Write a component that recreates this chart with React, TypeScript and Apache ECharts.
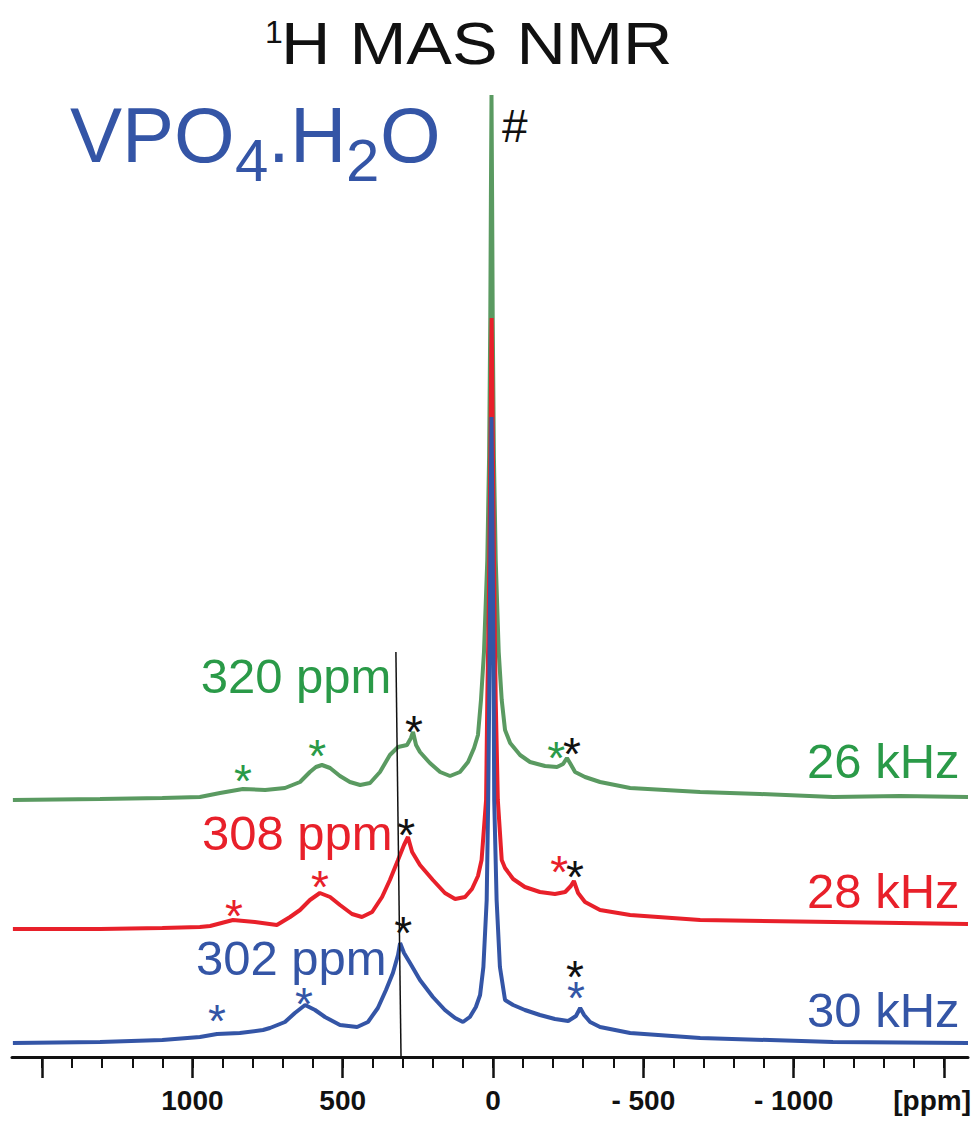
import React, { useEffect, useRef } from 'react';
import * as echarts from 'echarts';

const FONT = '"Liberation Sans", Arial, Helvetica, sans-serif';

// ---- Spectra: chemical shift (ppm) and intensity (arbitrary units, stacking offsets included)
const greenPpm = [1597, 1307, 1100, 975, 908, 832, 758, 692, 642, 609, 589, 569, 542, 509, 476, 442, 409, 376, 343, 316, 286, 273, 266, 256, 243, 210, 176, 143, 110, 83, 63, 50, 40, 30, 19, 13, 9, 7, 5, 3, 1, -3, -9, -19, -29, -40, -57, -90, -123, -173, -213, -233, -246, -256, -273, -306, -356, -456, -689, -888, -1131, -1354, -1580];
const greenInt = [257, 258, 259, 260, 264, 268, 267, 269, 275, 285, 290, 292, 289, 281, 275, 272, 274, 285, 302, 310, 312, 319, 325, 312, 305, 294, 285, 281, 285, 295, 309, 322, 357, 405, 497, 600, 740, 860, 962, 860, 740, 600, 497, 405, 357, 327, 314, 302, 295, 291, 290, 293, 299, 294, 285, 280, 275, 269, 265, 263, 260, 261, 260];

const redPpm = [1597, 1307, 1100, 975, 941, 865, 792, 719, 675, 642, 609, 576, 542, 509, 469, 436, 402, 369, 343, 316, 296, 283, 269, 243, 200, 160, 126, 93, 70, 50, 38, 23, 19, 14, 10, 7, 4.5, 2, -1, -5, -9, -16, -29, -40, -67, -106, -156, -206, -240, -259, -269, -283, -306, -356, -456, -689, -1131, -1580];
const redInt = [128, 128, 129, 130, 131, 137, 135, 132, 140, 147, 157, 164, 160, 152, 143, 140, 145, 160, 177, 197, 212, 220, 205, 192, 177, 164, 158, 160, 168, 181, 197, 257, 357, 450, 560, 660, 739, 660, 560, 450, 357, 257, 197, 189, 178, 170, 165, 163, 165, 171, 176, 164, 155, 147, 142, 137, 135, 133];

const bluePpm = [1597, 1307, 1100, 975, 918, 842, 765, 742, 692, 659, 625, 592, 559, 509, 452, 416, 383, 356, 333, 316, 309, 296, 276, 243, 200, 160, 126, 100, 77, 57, 43, 32, 21, 16, 12, 9, 5, 1, -2, -4, -12, -23, -40, -67, -106, -156, -206, -250, -276, -290, -303, -323, -356, -456, -689, -1131, -1580];
const blueInt = [14, 15, 17, 20, 23, 24, 27, 29, 35, 44, 52, 47, 40, 32, 30, 35, 49, 67, 84, 102, 114, 104, 94, 77, 60, 47, 39, 35, 40, 50, 62, 90, 157, 257, 380, 500, 640, 500, 380, 257, 157, 90, 57, 52, 47, 42, 38, 36, 41, 49, 42, 35, 30, 24, 19, 15, 14];

// isotropic-shift guide line (top -> bottom)
const guidePpm = [323, 306];
const guideInt = [405, 0];

// spinning sideband markers
const starsGreen = [[832, 286], [585, 311], [-210, 309]];
const starsRed = [[862, 151], [576, 180], [-220, 195]];
const starsBlue = [[918, 46], [629, 63], [-276, 69]];
const starsBlack = [[263, 335], [-263, 313], [289, 232], [-273, 190], [299, 134], [-273, 90]];

// labels
const shiftLabels = ['320 ppm', '308 ppm', '302 ppm'];
const shiftLabelPos = [[338, 381], [334, 224], [354, 99]];
const rateLabels = ['26 kHz', '28 kHz', '30 kHz'];
const rateLabelPos = [[-1552, 296], [-1552, 166], [-1552, 47]];

// axis ticks
const minorTicks = [1500, 1400, 1300, 1200, 1100, 1000, 900, 800, 700, 600, 500, 400, 300, 200, 100, 0, -100, -200, -300, -400, -500, -600, -700, -800, -900, -1000, -1100, -1200, -1300, -1400, -1500];
const majorTicks = [1500, 1000, 500, 0, -500, -1000, -1500];
const labelTicks = [1000, 500, 0, -500, -1000];

const GREEN_LINE = '#5a9a61';
const GREEN_TEXT = '#2a9a48';
const RED = '#e8202a';
const BLUE = '#3455a6';
const BLACK = '#111111';

const zip = (a: number[], b: number[]) => a.map((v, i) => [v, b[i]]);

function starSeries(data: number[][], color: string) {
  return {
    type: 'scatter',
    silent: true,
    symbolSize: 1,
    itemStyle: { color: 'rgba(0,0,0,0)', opacity: 1 },
    data,
    z: 5,
    label: {
      show: true,
      position: 'inside',
      formatter: '*',
      fontSize: 46,
      lineHeight: 16,
      fontFamily: FONT,
      color,
      opacity: 1,
      offset: [0, 10],
    },
  };
}

function textSeries(texts: string[], pos: number[][], colors: string[]) {
  return {
    type: 'scatter',
    silent: true,
    symbolSize: 1,
    itemStyle: { color: 'rgba(0,0,0,0)', opacity: 1 },
    z: 5,
    data: pos.map((p, i) => ({
      value: p,
      label: {
        show: true,
        position: 'inside',
        align: 'right',
        verticalAlign: 'middle',
        formatter: texts[i],
        fontSize: 49,
        lineHeight: 40,
        fontFamily: FONT,
        color: colors[i],
        opacity: 1,
      },
    })),
  };
}

export default function App() {
  const ref = useRef<HTMLDivElement>(null);
  useEffect(() => {
    if (!ref.current) return;
    const chart = echarts.init(ref.current, undefined, { renderer: 'svg' });
    const axisBase = {
      type: 'value',
      min: -1580,
      max: 1600,
      inverse: true,
      position: 'bottom',
      splitLine: { show: false },
    };
    chart.setOption({
      animation: false,
      backgroundColor: '#ffffff',
      grid: { left: 12, right: 8, top: 95, bottom: 64 },
      xAxis: [
        {
          ...axisBase,
          axisLine: { show: true, onZero: false, lineStyle: { color: BLACK, width: 3 } },
          axisTick: { show: true, customValues: minorTicks, length: 11, lineStyle: { color: BLACK, width: 2 } },
          axisLabel: { show: false },
        },
        {
          ...axisBase,
          axisLine: { show: false, onZero: false },
          axisTick: { show: true, customValues: majorTicks, length: 21, lineStyle: { color: BLACK, width: 2.5 } },
          axisLabel: {
            show: true,
            customValues: labelTicks,
            margin: 29,
            fontSize: 28,
            fontWeight: 'bold',
            fontFamily: FONT,
            color: BLACK,
            formatter: (v: number) => (v < 0 ? '- ' + Math.abs(v) : String(v)),
          },
        },
      ],
      yAxis: { type: 'value', min: 0, max: 962, show: false },
      series: [
        {
          type: 'line', silent: true, symbol: 'none', data: zip(greenPpm, greenInt),
          lineStyle: { color: GREEN_LINE, width: 4 }, z: 2,
        },
        {
          type: 'line', silent: true, symbol: 'none', data: zip(redPpm, redInt),
          lineStyle: { color: RED, width: 4 }, z: 3,
        },
        {
          type: 'line', silent: true, symbol: 'none', data: zip(bluePpm, blueInt),
          lineStyle: { color: BLUE, width: 4 }, z: 4,
        },
        {
          type: 'line', silent: true, symbol: 'none', data: zip(guidePpm, guideInt),
          lineStyle: { color: BLACK, width: 1.5 }, z: 6,
        },
        starSeries(starsGreen, GREEN_TEXT),
        starSeries(starsRed, RED),
        starSeries(starsBlue, BLUE),
        starSeries(starsBlack, BLACK),
        textSeries(shiftLabels, shiftLabelPos, [GREEN_TEXT, RED, BLUE]),
        textSeries(rateLabels, rateLabelPos, [GREEN_TEXT, RED, BLUE]),
      ],
      graphic: [
        { type: 'text', x: 265, y: 32, style: { text: '1', font: `32px ${FONT}`, fill: BLACK, verticalAlign: 'middle' } },
        { type: 'text', x: 281, y: 43, scaleX: 1.14, style: { text: 'H MAS NMR', font: `60px ${FONT}`, fill: BLACK, verticalAlign: 'middle' } },
        { type: 'text', x: 70, y: 135, style: { text: 'VPO', font: `78px ${FONT}`, fill: BLUE, verticalAlign: 'middle' } },
        { type: 'text', x: 235, y: 160, style: { text: '4', font: `60px ${FONT}`, fill: BLUE, verticalAlign: 'middle' } },
        { type: 'text', x: 268, y: 135, style: { text: '.', font: `78px ${FONT}`, fill: BLUE, verticalAlign: 'middle' } },
        { type: 'text', x: 290, y: 135, style: { text: 'H', font: `78px ${FONT}`, fill: BLUE, verticalAlign: 'middle' } },
        { type: 'text', x: 346, y: 160, style: { text: '2', font: `60px ${FONT}`, fill: BLUE, verticalAlign: 'middle' } },
        { type: 'text', x: 380, y: 135, style: { text: 'O', font: `78px ${FONT}`, fill: BLUE, verticalAlign: 'middle' } },
        { type: 'text', x: 502, y: 126, style: { text: '#', font: `46px ${FONT}`, fill: BLACK, verticalAlign: 'middle' } },
        { type: 'text', x: 971, y: 1100, style: { text: '[ppm]', font: `bold 28px ${FONT}`, fill: BLACK, align: 'right', verticalAlign: 'middle' } },
      ],
    });
    return () => chart.dispose();
  }, []);
  return <div ref={ref} style={{ position: 'fixed', left: 0, top: 0, width: 976, height: 1121, background: '#fff' }} />;
}
